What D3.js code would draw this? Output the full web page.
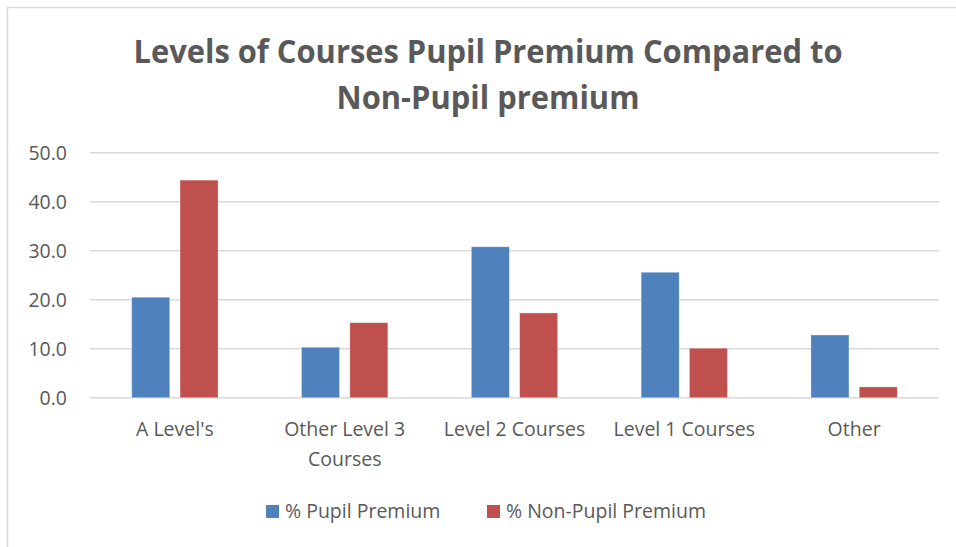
<!DOCTYPE html>
<html>
<head>
<meta charset="utf-8">
<script src="https://cdn.jsdelivr.net/npm/d3@7"></script>
<style>
  body { margin: 0; background: #fff; }
  svg { display: block; font-family: "Open Sans", sans-serif; }
</style>
</head>
<body>
<div id="chart"></div>
<script>
// chart data
const categories = ["A Level's", "Other Level 3 Courses", "Level 2 Courses", "Level 1 Courses", "Other"];
const seriesNames = ["% Pupil Premium", "% Non-Pupil Premium"];
const pupilPremium = [20.5, 10.3, 30.8, 25.6, 12.8];
const nonPupilPremium = [44.4, 15.3, 17.3, 10.1, 2.2];
const yTicks = [0, 10, 20, 30, 40, 50];
const titleLines = ["Levels of Courses Pupil Premium Compared to", "Non-Pupil premium"];

const colors = ["#4f81bd", "#c0504d"];
const textColor = "#595959";
const labelSize = 19.5;

const width = 956, height = 547;
const margin = { top: 153, right: 17, bottom: 149, left: 90 };

const svg = d3.select("#chart").append("svg")
  .attr("width", width)
  .attr("height", height);

// chart frame
svg.append("rect")
  .attr("x", 7.5).attr("y", 7.5)
  .attr("width", width + 10).attr("height", height + 10)
  .attr("fill", "#fff")
  .attr("stroke", "#d9d9d9")
  .attr("stroke-width", 1.5);

// title
const titleWidths = [709, 303];
svg.selectAll("text.title")
  .data(titleLines)
  .enter().append("text")
  .attr("class", "title")
  .attr("x", 488)
  .attr("y", (d, i) => 63 + i * 46)
  .attr("text-anchor", "middle")
  .attr("font-size", 32)
  .attr("font-weight", "bold")
  .attr("fill", textColor)
  .attr("textLength", (d, i) => titleWidths[i])
  .attr("lengthAdjust", "spacingAndGlyphs")
  .text(d => d);

const x0 = d3.scaleBand()
  .domain(categories)
  .range([margin.left, width - margin.right])
  .padding(0);

const x1 = d3.scaleBand()
  .domain(seriesNames)
  .range([0, x0.bandwidth()])
  .paddingInner(0.213)
  .paddingOuter(0.864);

const y = d3.scaleLinear()
  .domain([0, 50])
  .range([height - margin.bottom - 0.3, margin.top - 0.3]);

// gridlines
svg.append("g")
  .selectAll("line")
  .data(yTicks)
  .enter().append("line")
  .attr("x1", margin.left)
  .attr("x2", width - margin.right)
  .attr("y1", d => y(d))
  .attr("y2", d => y(d))
  .attr("stroke", "#d9d9d9")
  .attr("stroke-width", 1.5);

// y axis labels
const yAxis = svg.append("g")
  .attr("transform", `translate(${margin.left - 23},0)`)
  .call(d3.axisLeft(y).tickValues(yTicks).tickFormat(d3.format(".1f")).tickSize(0).tickPadding(0));
yAxis.select(".domain").remove();
yAxis.selectAll("text")
  .attr("font-size", labelSize)
  .attr("font-family", "Open Sans, sans-serif")
  .attr("fill", textColor)
  .attr("dy", "0.35em");

// bars
const rows = categories.map((c, i) => ({ cat: c, values: [pupilPremium[i], nonPupilPremium[i]] }));

const groups = svg.append("g")
  .selectAll("g")
  .data(rows)
  .enter().append("g")
  .attr("transform", d => `translate(${x0(d.cat)},0)`);

groups.selectAll("rect")
  .data(d => d.values.map((v, j) => ({ series: seriesNames[j], value: v, j })))
  .enter().append("rect")
  .attr("x", d => x1(d.series))
  .attr("y", d => y(d.value))
  .attr("width", x1.bandwidth())
  .attr("height", d => y(0) - y(d.value))
  .attr("fill", d => colors[d.j])
  .attr("stroke", "#fff")
  .attr("stroke-opacity", 0.4)
  .attr("stroke-width", 0.75);

// category labels (wrapped)
const xAxis = svg.append("g")
  .attr("transform", `translate(0,${y(0)})`)
  .call(d3.axisBottom(x0).tickSize(0).tickPadding(0));
xAxis.select(".domain").remove();
xAxis.selectAll("text")
  .attr("font-size", labelSize)
  .attr("font-family", "Open Sans, sans-serif")
  .attr("fill", textColor)
  .attr("y", 38)
  .attr("dy", null)
  .call(wrap, 168);

function wrap(sel, w) {
  sel.each(function () {
    const t = d3.select(this);
    const words = t.text().split(/\s+/);
    const yy = t.attr("y");
    t.text(null);
    let line = [];
    let lineNo = 0;
    let tspan = t.append("tspan").attr("x", 0).attr("y", yy);
    words.forEach(word => {
      line.push(word);
      tspan.text(line.join(" "));
      if (tspan.node().getComputedTextLength() > w && line.length > 1) {
        line.pop();
        tspan.text(line.join(" "));
        line = [word];
        lineNo++;
        tspan = t.append("tspan").attr("x", 0).attr("y", +yy + lineNo * 30).text(word);
      }
    });
  });
}

// legend
const legendX = [266, 487];
const legend = svg.append("g")
  .selectAll("g")
  .data(seriesNames)
  .enter().append("g")
  .attr("transform", (d, i) => `translate(${legendX[i]},505)`);

legend.append("rect")
  .attr("width", 13)
  .attr("height", 13)
  .attr("fill", (d, i) => colors[i]);

legend.append("text")
  .attr("x", 19)
  .attr("y", 13)
  .attr("font-size", labelSize)
  .attr("fill", textColor)
  .text(d => d);
</script>
</body>
</html>
